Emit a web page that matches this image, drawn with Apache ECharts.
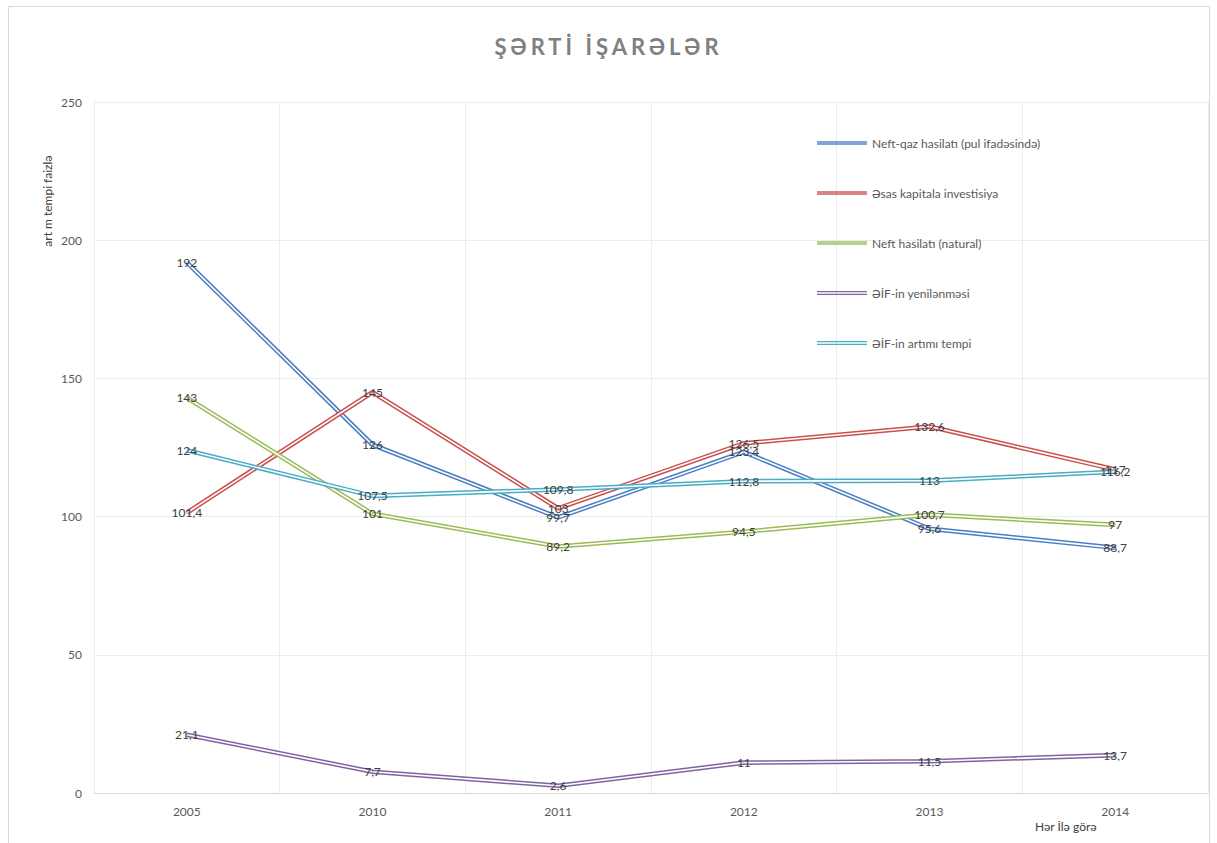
<!DOCTYPE html>
<html>
<head>
<meta charset="utf-8">
<script src="https://cdn.jsdelivr.net/npm/echarts@6/dist/echarts.min.js"></script>
<style>
html,body{margin:0;padding:0;background:#fff;}
#chart{width:1217px;height:843px;}
</style>
</head>
<body>
<div id="chart"></div>
<script>
var categories = ['2005', '2010', '2011', '2012', '2013', '2014'];
var neftQaz = [192, 126, 99.7, 123.4, 95.6, 88.7];
var esasKapital = [101.4, 145, 103, 126.5, 132.6, 117];
var neftNatural = [143, 101, 89.2, 94.5, 100.7, 97];
var eifYenilenme = [21.1, 7.7, 2.6, 11, 11.5, 13.7];
var eifArtim = [124, 107.5, 109.8, 112.8, 113, 116.2];
var seriesNames = ['Neft-qaz hasilatı (pul ifadəsində)', 'Əsas kapitala investisiya', 'Neft hasilatı (natural)', 'ƏİF-in yenilənməsi', 'ƏİF-in artımı tempi'];
var yTicks = [0, 50, 100, 150, 200, 250];
var titleText = 'ŞƏRTİ İŞARƏLƏR';
var yAxisName = 'art m tempi faizlə';
var xAxisName = 'Hər İlə görə';

var colors = ['#4a7dc2', '#c9504e', '#9bbb59', '#8064a2', '#4bacc6'];
var allData = [neftQaz, esasKapital, neftNatural, eifYenilenme, eifArtim];
var FONT = 'Lato, "Open Sans", sans-serif';

var series = [];
allData.forEach(function (d, i) {
  series.push({
    name: seriesNames[i],
    type: 'line',
    data: d,
    symbol: 'circle',
    symbolSize: 1,
    showSymbol: true,
    itemStyle: { color: colors[i] },
    lineStyle: { color: colors[i], width: 4.6 },
    label: {
      show: true,
      position: 'inside',
      color: '#404040',
      fontSize: 12,
      fontFamily: FONT,
      formatter: function (p) { return String(p.value).replace('.', ','); }
    },
    emphasis: { disabled: true },
    silent: true,
    z: 2
  });
  series.push({
    name: '_w' + i,
    type: 'line',
    data: d,
    symbol: 'none',
    lineStyle: { color: '#ffffff', width: 1.6 },
    emphasis: { disabled: true },
    silent: true,
    z: 2
  });
});

var legendData = seriesNames.map(function (n, i) {
  if (i >= 3) {
    return { name: n, icon: 'path://M0,0H50V1.2H0Z M0,2.8H50V4H0Z', itemStyle: { color: colors[i] } };
  }
  return { name: n, icon: 'rect', itemStyle: { color: colors[i], opacity: 0.7 } };
});

var chart = echarts.init(document.getElementById('chart'), null, { renderer: 'svg' });
chart.setOption({
  animation: false,
  backgroundColor: '#ffffff',
  title: {
    text: titleText,
    left: 'center',
    top: 30,
    textStyle: { fontSize: 22, fontWeight: 'bold', color: '#808080', fontFamily: FONT }
  },
  legend: {
    orient: 'vertical',
    left: 817,
    top: 136,
    padding: 0,
    itemWidth: 50,
    itemHeight: 4,
    itemGap: 36,
    selectedMode: false,
    data: legendData,
    textStyle: { fontSize: 12, color: '#595959', fontFamily: FONT, lineHeight: 14 }
  },
  grid: { left: 94, right: 9, top: 102, bottom: 50, containLabel: false },
  xAxis: {
    type: 'category',
    data: categories,
    boundaryGap: true,
    axisLine: { show: true, lineStyle: { color: '#d9d9d9', width: 1 } },
    axisTick: { show: false },
    axisLabel: { color: '#595959', fontSize: 12, fontFamily: FONT, margin: 12 },
    splitLine: { show: true, lineStyle: { color: '#ececec', width: 1 } }
  },
  yAxis: {
    type: 'value',
    min: yTicks[0],
    max: yTicks[yTicks.length - 1],
    interval: 50,
    axisLine: { show: false },
    axisTick: { show: false },
    axisLabel: { color: '#595959', fontSize: 12, fontFamily: FONT, margin: 12 },
    splitLine: { show: true, lineStyle: { color: '#ececec', width: 1 } }
  },
  graphic: [
    {
      type: 'rect',
      shape: { x: 8.5, y: 6.5, width: 1201, height: 860 },
      style: { fill: 'none', stroke: '#d9d9d9', lineWidth: 1 },
      silent: true, z: -10
    },
    {
      type: 'text',
      x: 47, y: 201,
      rotation: Math.PI / 2,
      style: { text: yAxisName, fill: '#404040', fontSize: 12, fontFamily: FONT, textAlign: 'center', textVerticalAlign: 'middle' },
      silent: true
    },
    {
      type: 'text',
      left: 1035, top: 820,
      style: { text: xAxisName, fill: '#404040', fontSize: 12, fontFamily: FONT },
      silent: true
    }
  ],
  series: series
});

function spaceTitle() {
  var texts = document.querySelectorAll('#chart svg text');
  texts.forEach(function (t) {
    if (t.textContent === titleText) {
      t.setAttribute('letter-spacing', '4');
      t.style.letterSpacing = '4px';
    }
  });
}
chart.on('finished', spaceTitle);
spaceTitle();
</script>
</body>
</html>
